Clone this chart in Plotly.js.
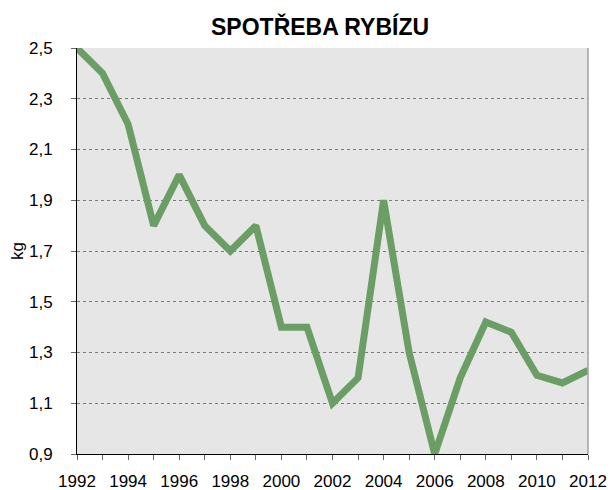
<!DOCTYPE html>
<html>
<head>
<meta charset="utf-8">
<script src="https://cdn.plot.ly/plotly-3.0.1.min.js"></script>
<style>html,body{margin:0;padding:0;background:#fff;}#chart{width:612px;height:490px;}</style>
</head>
<body>
<div id="chart"></div>
<script>
const years = [1992,1993,1994,1995,1996,1997,1998,1999,2000,2001,2002,2003,2004,2005,2006,2007,2008,2009,2010,2011,2012];
const consumption = [2.5,2.4,2.2,1.8,2.0,1.8,1.7,1.8,1.4,1.4,1.1,1.2,1.9,1.3,0.9,1.2,1.42,1.38,1.21,1.18,1.23];
const yTicks = [0.9,1.1,1.3,1.5,1.7,1.9,2.1,2.3,2.5];
const yTickLabels = ['0,9','1,1','1,3','1,5','1,7','1,9','2,1','2,3','2,5'];
const xTickLabels = ['1992','1994','1996','1998','2000','2002','2004','2006','2008','2010','2012'];

const trace = {
  x: years, y: consumption, type: 'scatter', mode: 'lines',
  line: {color: '#6a9e64', width: 7},
  hoverinfo: 'skip'
};

const layout = {
  width: 612, height: 490,
  margin: {l: 77, r: 24, t: 48, b: 36},
  paper_bgcolor: '#ffffff',
  plot_bgcolor: '#e6e6e6',
  font: {family: 'Arial, "Liberation Sans", sans-serif', size: 16, color: '#000'},
  title: {text: '<b>SPOTŘEBA RYBÍZU</b>', font: {size: 23, color: '#000'}, x: 0.523, xanchor: 'center', y: 0.945, yanchor: 'middle'},
  showlegend: false,
  xaxis: {
    range: [1992, 2012], showgrid: false, zeroline: false,
    showline: true, linecolor: '#000', linewidth: 1,
    ticks: 'outside', ticklen: 5, tickcolor: '#666', tickwidth: 1,
    tickmode: 'array', tickvals: years,
    ticktext: years.map(y => (xTickLabels.includes(String(y)) ? String(y) : '')),
    tickfont: {size: 17}, ticklabelstandoff: 7
  },
  yaxis: {
    range: [0.9, 2.5], showgrid: true, gridcolor: '#7a7a7a', griddash: 'dot', gridwidth: 1,
    zeroline: false, showline: true, linecolor: '#000', linewidth: 1,
    ticks: 'outside', ticklen: 5, tickcolor: '#666',
    tickmode: 'array', tickvals: yTicks, ticktext: yTickLabels,
    tickfont: {size: 17}, ticklabelstandoff: 15,
    title: {text: 'kg', font: {size: 17}, standoff: 1}
  },
  shapes: [
    {type: 'line', xref: 'paper', yref: 'paper', x0: 1, x1: 1, y0: 0, y1: 1, line: {color: '#a0a0a0', width: 1.5}}
  ]
};

Plotly.newPlot('chart', [trace], layout, {staticPlot: true, displayModeBar: false});
</script>
</body>
</html>
